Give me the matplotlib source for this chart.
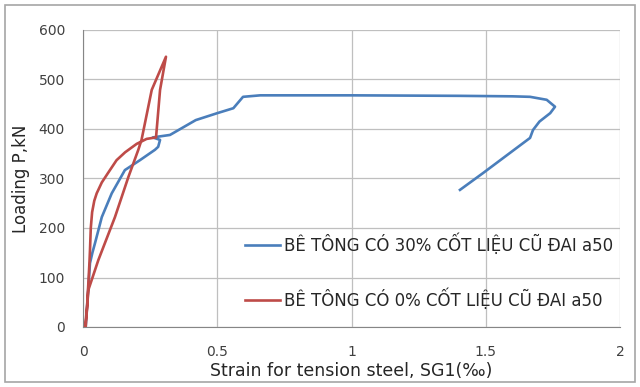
import matplotlib.pyplot as plt
from matplotlib.patches import Rectangle

# data
blue_x = [0.01, 0.015, 0.02, 0.026, 0.035, 0.045, 0.07, 0.107, 0.156, 0.212, 0.268, 0.28, 0.287,
          0.26, 0.324, 0.42, 0.50, 0.56, 0.596, 0.66, 1.0, 1.4, 1.6, 1.665, 1.727, 1.758, 1.74,
          1.70, 1.676, 1.665, 1.628, 1.49, 1.404]
blue_y = [0, 40, 80, 129, 150, 170, 222, 270, 317, 337, 358, 364, 378,
          383, 388, 418, 432, 442, 465, 468, 468, 467, 466, 465, 459, 445, 432,
          415, 398, 382, 367, 311, 277]

red_x = [0.008, 0.015, 0.02, 0.024, 0.026, 0.029, 0.034, 0.042, 0.051, 0.07, 0.093, 0.125,
         0.157, 0.2, 0.237, 0.272, 0.287, 0.309, 0.256, 0.218, 0.206, 0.169, 0.119, 0.057,
         0.02, 0.01]
red_y = [0, 40, 89, 130, 155, 200, 232, 255, 270, 292, 311, 337,
         353, 370, 380, 383, 479, 546, 479, 378, 358, 303, 222, 135,
         75, 0]

labels = ['BÊ TÔNG CÓ 30% CỐT LIỆU CŨ ĐAI a50', 'BÊ TÔNG CÓ 0% CỐT LIỆU CŨ ĐAI a50']
xticks = [0, 0.5, 1, 1.5, 2]
xticklabels = ['0', '0.5', '1', '1.5', '2']
yticks = [0, 100, 200, 300, 400, 500, 600]

plt.rcParams['font.family'] = ['DejaVu Sans']

fig = plt.figure(figsize=(6.4, 3.87), dpi=100)
ax = fig.add_axes([83 / 640, 1 - 327 / 387, 537 / 640, 297 / 387])

ax.plot(blue_x, blue_y, color='#4A7EBB', lw=1.9, label=labels[0], zorder=3)
ax.plot(red_x, red_y, color='#BE4B48', lw=1.9, label=labels[1], zorder=3)

ax.set_xlim(0, 2)
ax.set_ylim(0, 600)
ax.set_xticks(xticks)
ax.set_xticklabels(xticklabels)
ax.set_yticks(yticks)
ax.grid(True, color='#BFBFBF', lw=0.9)
ax.set_axisbelow(True)
for s in ['top', 'right']:
    ax.spines[s].set_visible(False)
ax.spines['left'].set_color('#868686')
ax.spines['bottom'].set_color('#868686')
ax.tick_params(length=0, labelsize=10, colors='#404040')
ax.tick_params(axis='x', pad=13)
ax.tick_params(axis='y', pad=13)

ax.set_xlabel('Strain for tension steel, SG1(‰)', fontsize=12.5, color='#262626', labelpad=2)
ax.set_ylabel('Loading P,kN', fontsize=12, color='#262626', labelpad=6)

ax.legend(loc='center left', bbox_to_anchor=(0.302, 0.187), frameon=False, fontsize=12,
          labelspacing=2.0, handlelength=2.1, handletextpad=0.25, borderpad=0,
          borderaxespad=0, labelcolor='#262626')

fig.patches.append(Rectangle((5 / 640, 5 / 387), 630 / 640, 377 / 387, transform=fig.transFigure,
                             fill=False, edgecolor='#A6A6A6', lw=1.2))

fig.savefig('out.png', dpi=100)
